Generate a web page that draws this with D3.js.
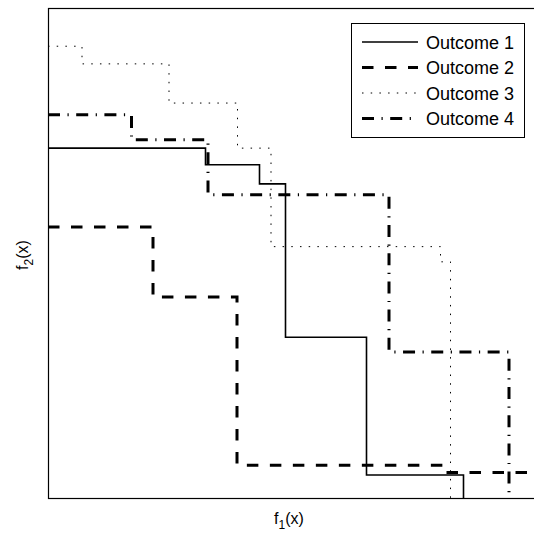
<!DOCTYPE html>
<html>
<head>
<meta charset="utf-8">
<script src="https://cdn.jsdelivr.net/npm/d3@7"></script>
<style>
  body { margin: 0; background: #fff; }
  text { font-family: "Liberation Sans", Arial, sans-serif; fill: #000; }
</style>
</head>
<body>
<svg id="chart" width="534" height="535"></svg>
<script>
// step curves (arbitrary units, 0..100)
const outcomeNames = ["Outcome 1", "Outcome 2", "Outcome 3", "Outcome 4"];

const outcome1X = [0, 31.5, 42.3, 47.5, 63.7, 83.1];
const outcome1Y = [71.4, 68.0, 64.1, 32.8, 4.7, 0];

const outcome2X = [0, 21.0, 37.8, 80.0, 100];
const outcome2Y = [55.3, 41.0, 6.7, 5.2, 5.2];

const outcome3X = [0, 6.8, 24.2, 37.9, 44.6, 78.5, 80.5];
const outcome3Y = [92.2, 88.6, 80.6, 71.4, 51.3, 48.2, 0];

const outcome4X = [0, 16.7, 32.0, 68.2, 92.2];
const outcome4Y = [78.2, 73.1, 61.9, 29.8, 0];

const series = [
  {name: outcomeNames[0], xs: outcome1X, ys: outcome1Y, width: 1.6, dash: null},
  {name: outcomeNames[1], xs: outcome2X, ys: outcome2Y, width: 3, dash: "11.5,11.5"},
  {name: outcomeNames[2], xs: outcome3X, ys: outcome3Y, width: 1, dash: "1.5,7.2"},
  {name: outcomeNames[3], xs: outcome4X, ys: outcome4Y, width: 3, dash: "12,7.5,1.2,7.5"}
];

const svg = d3.select("#chart");
const margin = {left: 48, top: 8};
const plotW = 500, plotH = 490;

const x = d3.scaleLinear().domain([0, 100]).range([margin.left, margin.left + plotW]);
const y = d3.scaleLinear().domain([0, 100]).range([margin.top + plotH, margin.top]);

svg.append("clipPath").attr("id", "plotclip")
  .append("rect")
  .attr("x", margin.left).attr("y", margin.top)
  .attr("width", plotW).attr("height", plotH);

const line = d3.line()
  .x(d => x(d[0]))
  .y(d => y(d[1]))
  .curve(d3.curveStepAfter);

const g = svg.append("g").attr("clip-path", "url(#plotclip)");
series.forEach(s => {
  const pts = s.xs.map((v, i) => [v, s.ys[i]]);
  g.append("path")
    .attr("d", line(pts))
    .attr("fill", "none")
    .attr("stroke", "#000")
    .attr("stroke-width", s.width)
    .attr("stroke-dasharray", s.dash);
});

// frame (right side runs off the picture)
svg.append("rect")
  .attr("x", margin.left + 0.5).attr("y", margin.top + 0.5)
  .attr("width", plotW).attr("height", plotH)
  .attr("fill", "none").attr("stroke", "#000").attr("stroke-width", 1.2);

// axis labels
const xl = svg.append("text")
  .attr("x", 289).attr("y", 524)
  .attr("text-anchor", "middle")
  .attr("font-size", 16);
xl.append("tspan").text("f");
xl.append("tspan").attr("dy", 5).attr("font-size", 12).text("1");
xl.append("tspan").attr("dy", -5).text("(x)");

const yl = svg.append("text")
  .attr("transform", "translate(28,255) rotate(-90)")
  .attr("text-anchor", "middle")
  .attr("font-size", 16);
yl.append("tspan").text("f");
yl.append("tspan").attr("dy", 5).attr("font-size", 12).text("2");
yl.append("tspan").attr("dy", -5).text("(x)");

// legend
const legend = svg.append("g");
legend.append("rect")
  .attr("x", 351.5).attr("y", 23.5)
  .attr("width", 173).attr("height", 114)
  .attr("fill", "#fff").attr("stroke", "#000").attr("stroke-width", 1);

series.forEach((s, i) => {
  const ly = 42 + i * 25.5;
  legend.append("line")
    .attr("x1", 362).attr("x2", 418)
    .attr("y1", ly).attr("y2", ly)
    .attr("stroke", "#000")
    .attr("stroke-width", s.width)
    .attr("stroke-dasharray", s.dash);
  legend.append("text")
    .attr("x", 426).attr("y", ly + 6.5)
    .attr("font-size", 18)
    .text(s.name);
});
</script>
</body>
</html>
